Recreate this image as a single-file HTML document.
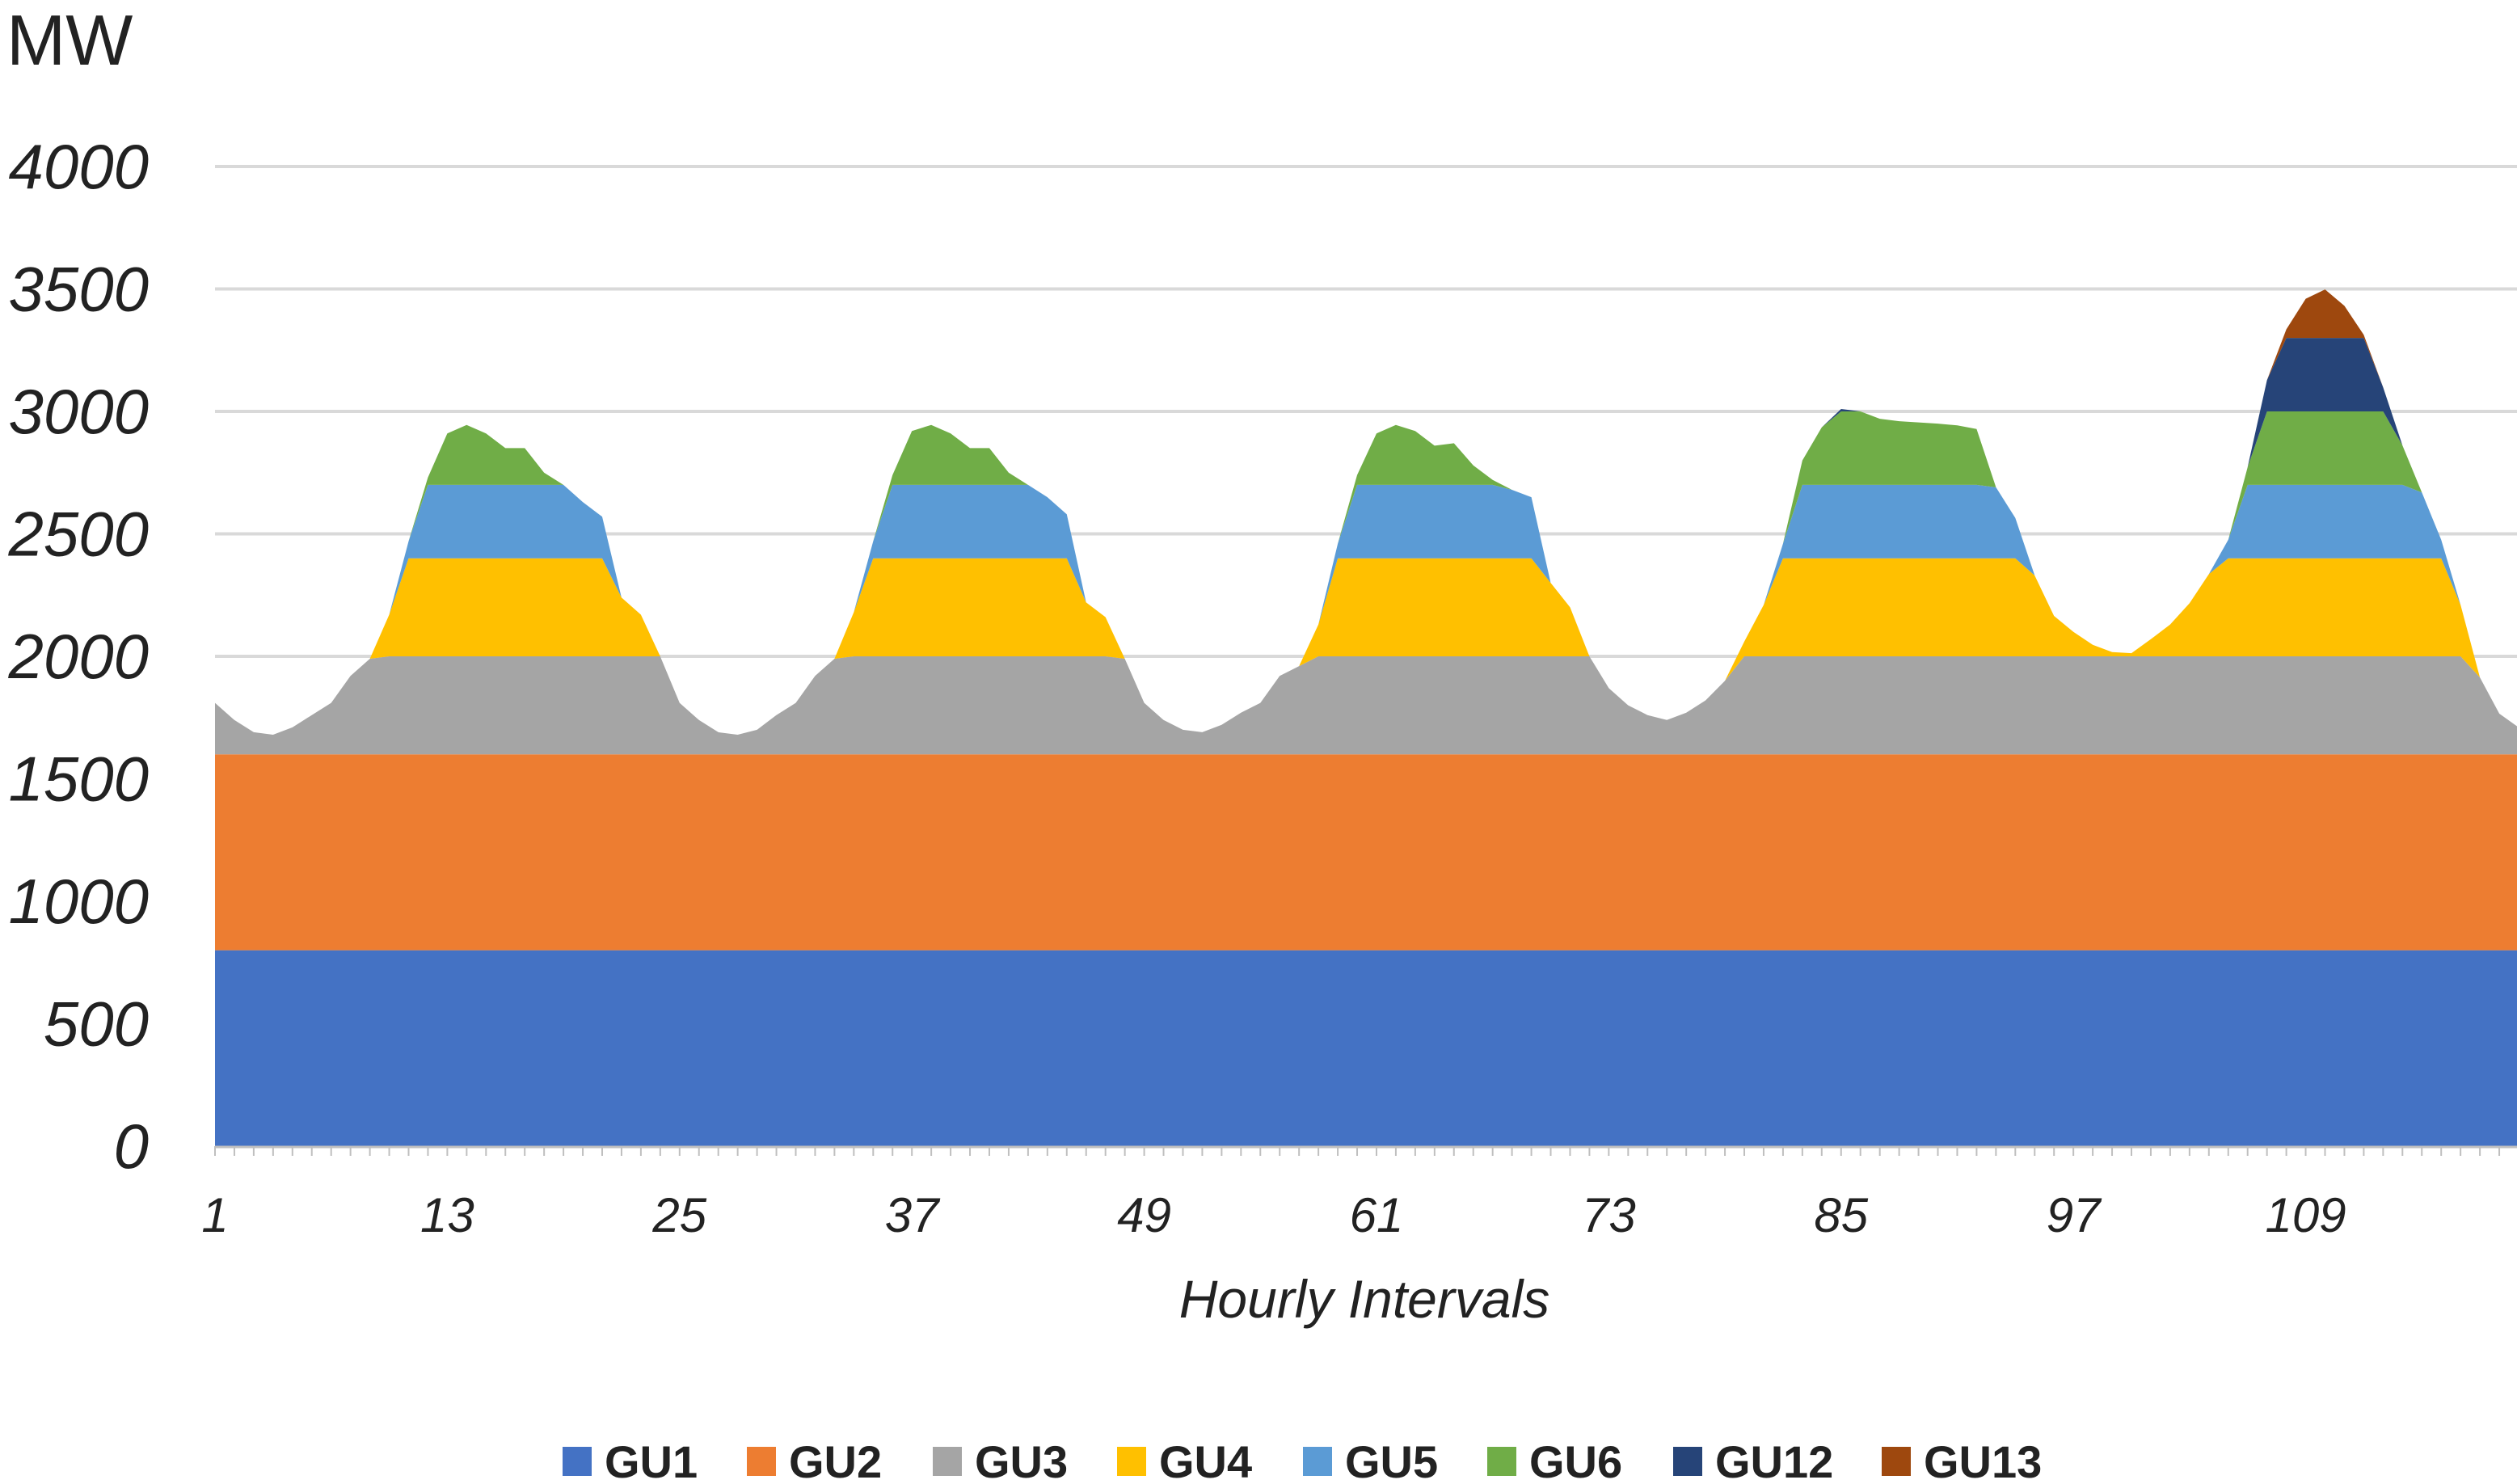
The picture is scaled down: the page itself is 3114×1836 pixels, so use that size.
<!DOCTYPE html>
<html><head><meta charset="utf-8"><style>
html,body{margin:0;padding:0;background:#fff}
svg{display:block}
text{font-family:"Liberation Sans",sans-serif}
</style></head><body>
<svg id="chart" width="3114" height="1836" viewBox="0 0 3114 1836" xmlns="http://www.w3.org/2000/svg">
<text x="8" y="80" font-size="88" fill="#222">MW</text>
<g id="grid"></g>
<g id="areas"></g>
<g id="axes"></g>
<text x="1688" y="1630" font-size="66" font-style="italic" text-anchor="middle" fill="#222">Hourly Intervals</text>
<g id="legend"></g>
</svg>
<script>
const seriesNames = ["GU1","GU2","GU3","GU4","GU5","GU6","GU12","GU13"];
const seriesColors = ["#4472c4","#ed7d31","#a5a5a5","#ffc000","#5b9bd5","#70ad47","#264478","#9e480e"];
const unitCapacity = [800,800,400,400,300,300,300,300];
const demand = [
1810,1740,1690,1680,1710,1760,1810,1920,1990,2170,2470,2730,2910,2945,2910,2850,2850,2750,2700,2630,2570,2240,2170,2000,
1810,1740,1690,1680,1700,1760,1810,1920,1990,2180,2470,2740,2920,2945,2910,2850,2850,2750,2700,2650,2580,2220,2160,1990,
1810,1740,1700,1690,1720,1770,1810,1920,1960,2130,2460,2740,2910,2945,2920,2860,2870,2780,2720,2680,2650,2300,2200,2000,
1870,1800,1760,1740,1770,1820,1900,2060,2210,2460,2800,2935,3010,3000,2970,2960,2955,2950,2943,2928,2690,2565,2330,2165,
2100,2047,2017,2013,2070,2130,2217,2336,2476,2772,3128,3335,3460,3498,3431,3313,3098,2861,2669,2476,2210,1914,1766,1710];
const yTicks = [0,500,1000,1500,2000,2500,3000,3500,4000];
const xTickLabels = [1,13,25,37,49,61,73,85,97,109];

const NS="http://www.w3.org/2000/svg";
const X0=266, X1=3116, Y0=1418, Y4000=206;
const n=demand.length;
function xs(h){return X0+(h-1)*(X1-X0)/(n-1);}
function ys(v){return Y0-(v/4000)*(Y0-Y4000);}
function mk(tag,attrs,parent){const e=document.createElementNS(NS,tag);for(const k in attrs)e.setAttribute(k,attrs[k]);parent.appendChild(e);return e;}

const grid=document.getElementById('grid');
yTicks.forEach(t=>{
  if(t>0){const l=mk('line',{x1:X0,x2:X1,y1:ys(t),y2:ys(t),stroke:'#d9d9d9','stroke-width':4},grid);
  
  }
  const tx=mk('text',{x:184,y:ys(t)+27,'font-size':78,'font-style':'italic','text-anchor':'end',fill:'#222'},grid);
  tx.textContent=t;
  
  
});

const stacks=seriesNames.map(()=>[]);
demand.forEach((d,i)=>{let rem=d;unitCapacity.forEach((c,k)=>{const v=Math.max(0,Math.min(c,rem));stacks[k].push(v);rem-=v;});});
const areas=document.getElementById('areas');
let base=new Array(n).fill(0);
stacks.forEach((vals,k)=>{
  const top=vals.map((v,i)=>base[i]+v);
  let d='';
  for(let i=0;i<n;i++)d+=(i?'L':'M')+xs(i+1).toFixed(1)+','+ys(top[i]).toFixed(1);
  for(let i=n-1;i>=0;i--)d+='L'+xs(i+1).toFixed(1)+','+ys(base[i]).toFixed(1);
  d+='Z';
  const p=mk('path',{d:d,fill:seriesColors[k]},areas);
  
  
  base=top;
});

const axes=document.getElementById('axes');
const ax=mk('line',{x1:X0,x2:X1,y1:Y0+1,y2:Y0+1,stroke:'#bfbfbf','stroke-width':3},axes);


for(let h=1;h<=n;h++){
  const t=mk('line',{x1:xs(h),x2:xs(h),y1:Y0,y2:Y0+12,stroke:'#bfbfbf','stroke-width':2},axes);
  
  
}
xTickLabels.forEach(h=>{
  const tx=mk('text',{x:xs(h),y:1524,'font-size':60,'font-style':'italic','text-anchor':'middle',fill:'#222'},axes);
  tx.textContent=h;
  
  
});

const legend=document.getElementById('legend');
const legX=[696,924,1154,1382,1612,1840,2070,2328];
seriesNames.forEach((nm,k)=>{
  const g=mk('g',{},legend);
  
  
  mk('rect',{x:legX[k],y:1790,width:36,height:36,fill:seriesColors[k]},g);
  const tx=mk('text',{x:legX[k]+52,y:1828,'font-size':56,'font-weight':'bold',fill:'#222'},g);
  tx.textContent=nm;
});
</script>
</body></html>
